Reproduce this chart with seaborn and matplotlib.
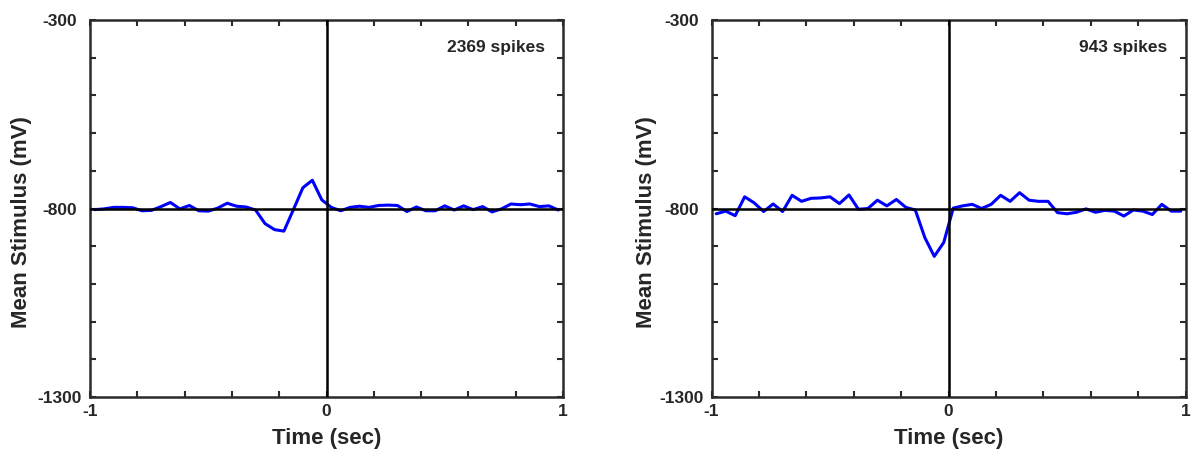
import numpy as np
import pandas as pd
import matplotlib
matplotlib.use("Agg")
import matplotlib.pyplot as plt
import seaborn as sns
from matplotlib.ticker import MultipleLocator, FixedLocator

sns.set_style("ticks")
plt.rcParams['font.family'] = ['Liberation Sans', 'DejaVu Sans']
plt.rcParams['font.weight'] = 'bold'

# Time bins (sec): bin centres from -0.98 to 0.98
time_sec = np.round(np.arange(-0.98, 0.99, 0.04), 2)

left_values = [-803, -801, -797, -797, -798, -806, -805, -795, -784, -801,
               -792, -806, -807, -799, -786, -794, -796, -804, -840, -856,
               -860, -803, -745, -725, -777, -797, -806, -797, -794, -797,
               -792, -791, -792, -808, -796, -806, -806, -793, -804, -793,
               -803, -795, -809, -801, -788, -790, -788, -795, -793, -804]

right_values = [-814, -807, -819, -769, -785, -808, -788, -808, -765, -781,
                -773, -772, -769, -787, -764, -802, -800, -778, -793, -776,
                -797, -804, -877, -927, -890, -799, -793, -789, -800, -789,
                -765, -781, -758, -778, -781, -781, -811, -814, -810, -801,
                -810, -805, -807, -820, -804, -807, -816, -789, -807, -807]

spike_counts = [2369, 943]
panels = [left_values, right_values]

x_label = "Time (sec)"
y_label = "Mean Stimulus (mV)"
y_ticklabels = {-300: "-300", -800: "-800", -1300: "-1300"}
x_ticklabels = {-1: "-1", 0: "0", 1: "1"}

fig = plt.figure(figsize=(11.92, 4.5), dpi=100)
axes_rects = [[90/1192, 1-397/450, 473/1192, 377/450],
              [711.5/1192, 1-397/450, 474/1192, 377/450]]
ylabel_x = [-0.123, -0.115]

spine_col = "#2a2a2a"
for rect, vals, n, ylx in zip(axes_rects, panels, spike_counts, ylabel_x):
    ax = fig.add_axes(rect)
    df = pd.DataFrame({"t": time_sec, "v": vals})
    ax.axhline(-800, color="black", lw=1.8, zorder=3)
    ax.axvline(0, color="black", lw=1.8, zorder=3)
    sns.lineplot(data=df, x="t", y="v", ax=ax, color="#0000ff", lw=2.2, zorder=2)
    ax.set_xlim(-1, 1)
    ax.set_ylim(-1300, -300)
    ax.xaxis.set_major_locator(FixedLocator(list(x_ticklabels.keys())))
    ax.xaxis.set_minor_locator(MultipleLocator(0.2))
    ax.set_xticklabels(list(x_ticklabels.values()))
    ax.yaxis.set_major_locator(FixedLocator(list(y_ticklabels.keys())))
    ax.yaxis.set_minor_locator(MultipleLocator(100))
    ax.set_yticklabels(list(y_ticklabels.values()))
    ax.tick_params(which="both", direction="in", top=True, right=True,
                   width=1.5, color=spine_col)
    ax.tick_params(which="major", length=4, labelsize=12.5)
    ax.tick_params(axis="x", which="major", pad=5)
    ax.tick_params(axis="y", which="major", pad=21.6)
    ax.tick_params(which="minor", length=4)
    for s in ax.spines.values():
        s.set_linewidth(1.8)
        s.set_color(spine_col)
        s.set_visible(True)
    ax.set_xlabel(x_label, fontsize=16, fontweight="bold")
    ax.set_ylabel(y_label, fontsize=16, fontweight="bold")
    ax.xaxis.set_label_coords(0.5, -0.082)
    ax.yaxis.set_label_coords(ylx, 0.464)
    for lab in ax.get_xticklabels() + ax.get_yticklabels():
        lab.set_fontweight("bold")
    for lab in ax.get_yticklabels():
        lab.set_horizontalalignment("center")
    ax.text(0.962, 0.928, f"{n} spikes", transform=ax.transAxes,
            ha="right", va="center", fontsize=12.5, fontweight="bold")

fig.savefig("out.png", dpi=100)
